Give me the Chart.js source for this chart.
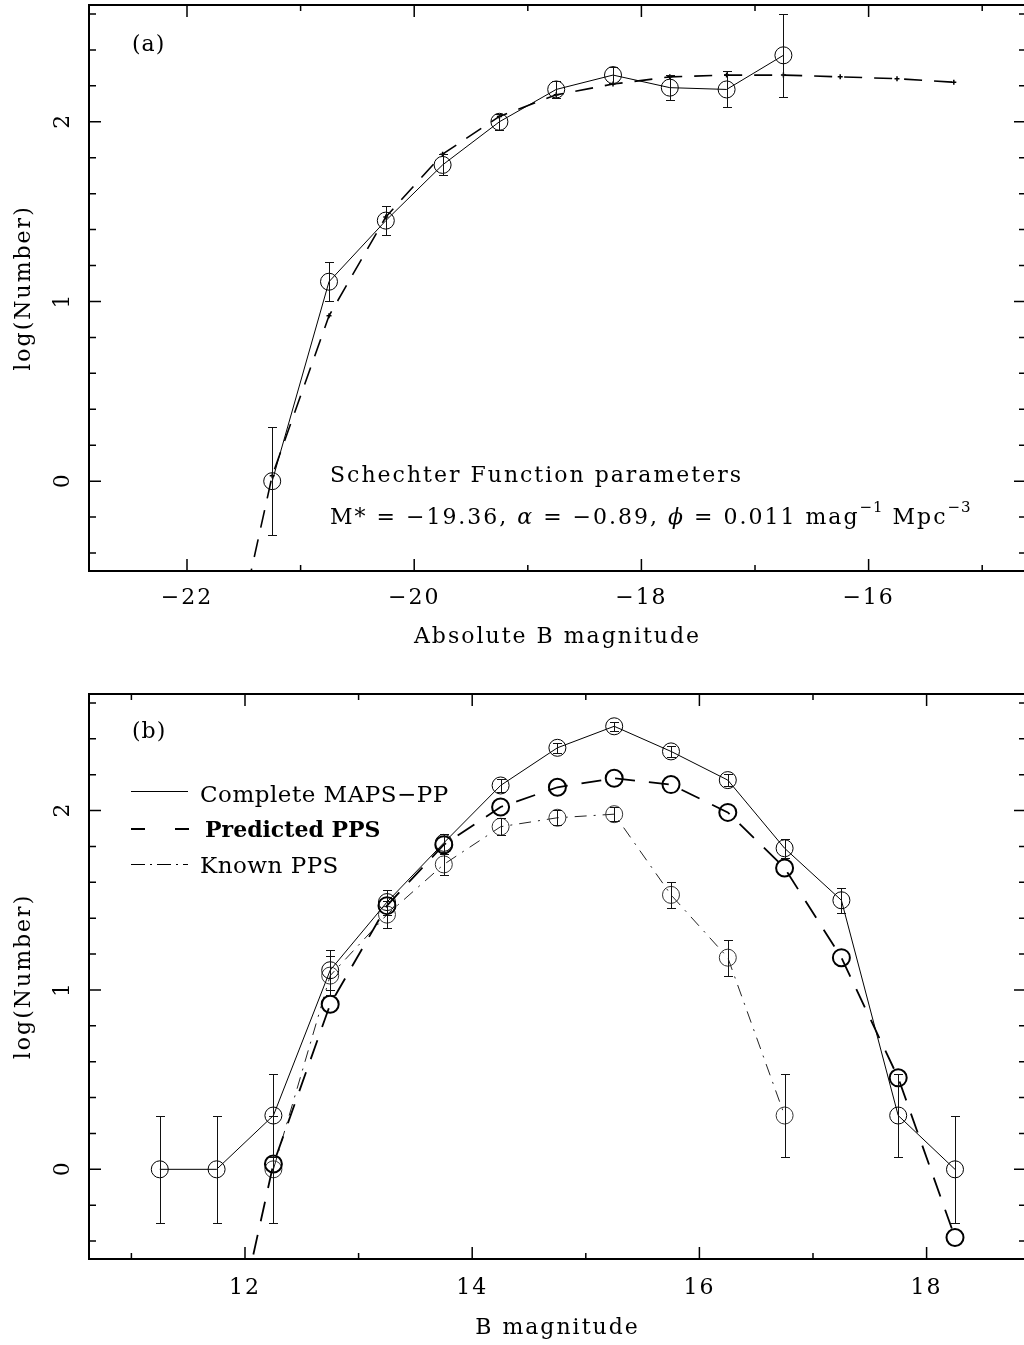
<!DOCTYPE html>
<html>
<head>
<meta charset="utf-8">
<script src="https://cdn.jsdelivr.net/npm/chart.js@4.4.1/dist/chart.umd.min.js"></script>
<style>
html, body { margin: 0; padding: 0; background: #fff; overflow: hidden; width: 1024px; height: 1345px; }
canvas { position: absolute; left: 0; }
#ca { top: 0; }
#cb { top: 665px; }
</style>
</head>
<body>
<canvas id="ca" width="1028" height="665"></canvas>
<canvas id="cb" width="1028" height="680"></canvas>
<script>
// (a) luminosity function, binned in absolute B magnitude
var magA = [-21.25, -20.75, -20.25, -19.75, -19.25, -18.75, -18.25, -17.75, -17.25, -16.75];
var logA = [0.00, 1.11, 1.45, 1.76, 2.00, 2.18, 2.26, 2.19, 2.18, 2.37];
var errA = [0.30, 0.11, 0.08, 0.058, 0.046, 0.045, 0.045, 0.068, 0.10, 0.23];

// Schechter fit
var magS = [-21.75, -21.25, -20.75, -20.25, -19.75, -19.25, -18.75, -18.25, -17.75, -17.25, -16.75, -16.25, -15.75, -15.25];
var logS = [-1.40, 0.03, 0.92, 1.47, 1.82, 2.03, 2.15, 2.21, 2.25, 2.26, 2.26, 2.25, 2.24, 2.22];

// (b) apparent B magnitude counts
var magC = [11.25, 11.75, 12.25, 12.75, 13.25, 13.75, 14.25, 14.75, 15.25, 15.75, 16.25, 16.75, 17.25, 17.75, 18.25];
var logC = [0.00, 0.00, 0.30, 1.11, 1.49, 1.82, 2.14, 2.35, 2.47, 2.33, 2.17, 1.79, 1.50, 0.30, 0.00];
var errC = [0.30, 0.30, 0.23, 0.11, 0.07, 0.05, 0.036, 0.028, 0.025, 0.03, 0.035, 0.052, 0.069, 0.23, 0.30];

var magP = [11.75, 12.25, 12.75, 13.25, 13.75, 14.25, 14.75, 15.25, 15.75, 16.25, 16.75, 17.25, 17.75, 18.25];
var logP = [-1.40, 0.03, 0.92, 1.47, 1.81, 2.02, 2.13, 2.18, 2.145, 1.99, 1.68, 1.18, 0.51, -0.38];

var magK = [12.25, 12.75, 13.25, 13.75, 14.25, 14.75, 15.25, 15.75, 16.25, 16.75];
var logK = [0.00, 1.08, 1.42, 1.70, 1.91, 1.96, 1.98, 1.53, 1.18, 0.30];
var errK = [0.30, 0.11, 0.075, 0.057, 0.046, 0.042, 0.04, 0.074, 0.10, 0.23];

// tick positions
var xTicksA = [-22, -21, -20, -19, -18, -17, -16, -15];
var xTicksB = [11, 12, 13, 14, 15, 16, 17, 18];
var yTicks = [-0.4, -0.2, 0, 0.2, 0.4, 0.6, 0.8, 1, 1.2, 1.4, 1.6, 1.8, 2, 2.2, 2.4, 2.6];

var fam = "'DejaVu Serif', serif";
Chart.defaults.font.family = fam;
Chart.defaults.color = '#000';

function pts(xs, ys) {
  return xs.map(function (x, i) { return { x: x, y: ys[i] }; });
}
function fmt(v) {
  return (v < 0 ? '\u2212' : '') + Math.abs(v);
}

// frame, inward ticks on all sides, rotated y labels, error bars
function decor(extra) {
  return {
    id: 'decor',
    beforeDraw: function (chart) {
      chart.ctx.letterSpacing = '2px';
    },
    afterDraw: function (chart) {
      var ctx = chart.ctx, a = chart.chartArea, xs = chart.scales.x, ys = chart.scales.y;
      ctx.save();
      ctx.beginPath();
      ctx.rect(a.left, a.top, a.right - a.left, a.bottom - a.top);
      ctx.clip();
      ctx.strokeStyle = '#111';
      ctx.lineWidth = 1;
      chart.data.datasets.forEach(function (ds) {
        if (!ds.err) return;
        ds.data.forEach(function (p, i) {
          var x = Math.round(xs.getPixelForValue(p.x)) + 0.5;
          var yt = Math.round(ys.getPixelForValue(p.y + ds.err[i])) + 0.5;
          var yb = Math.round(ys.getPixelForValue(p.y - ds.err[i])) + 0.5;
          ctx.beginPath();
          ctx.moveTo(x, yt); ctx.lineTo(x, yb);
          ctx.moveTo(x - 4.5, yt); ctx.lineTo(x + 4.5, yt);
          ctx.moveTo(x - 4.5, yb); ctx.lineTo(x + 4.5, yb);
          ctx.stroke();
        });
      });
      ctx.restore();

      ctx.save();
      ctx.strokeStyle = '#000';
      ctx.lineWidth = 2;
      ctx.strokeRect(a.left, a.top, a.right - a.left, a.bottom - a.top);
      ctx.lineWidth = 1.5;
      ctx.beginPath();
      xs.ticks.forEach(function (t) {
        var x = xs.getPixelForValue(t.value);
        var len = (t.value % 2 === 0) ? 12 : 6;
        ctx.moveTo(x, a.bottom); ctx.lineTo(x, a.bottom - len);
        ctx.moveTo(x, a.top); ctx.lineTo(x, a.top + len);
      });
      ys.ticks.forEach(function (t) {
        var y = ys.getPixelForValue(t.value);
        var major = Math.abs(t.value - Math.round(t.value)) < 1e-6;
        var len = major ? 12 : 7;
        ctx.moveTo(a.left, y); ctx.lineTo(a.left + len, y);
        ctx.moveTo(a.right, y); ctx.lineTo(a.right - len, y);
      });
      ctx.stroke();

      ctx.fillStyle = '#000';
      ctx.font = '22px ' + fam;
      ctx.letterSpacing = '0px';
      ctx.textAlign = 'center';
      ctx.textBaseline = 'middle';
      ys.ticks.forEach(function (t) {
        if (Math.abs(t.value - Math.round(t.value)) > 1e-6) return;
        ctx.save();
        ctx.translate(63, ys.getPixelForValue(t.value));
        ctx.rotate(-Math.PI / 2);
        ctx.fillText(String(Math.round(t.value)), 0, 0);
        ctx.restore();
      });
      extra(ctx, chart);
      ctx.restore();
    }
  };
}

function makeOptions(xmin, xmax, xTicks, xTitle, padTop, xHeight, labPad, titlePad) {
  return {
    responsive: false,
    animation: false,
    events: [],
    layout: { autoPadding: false, padding: { top: padTop, right: 2, left: 0, bottom: 0 } },
    plugins: { legend: { display: false }, tooltip: { enabled: false } },
    scales: {
      x: {
        type: 'linear', min: xmin, max: xmax, bounds: 'data',
        afterBuildTicks: function (s) { s.ticks = xTicks.map(function (v) { return { value: v }; }); },
        afterFit: function (s) { s.height = xHeight; },
        grid: { display: false, drawTicks: false },
        border: { display: false },
        ticks: {
          autoSkip: false, maxRotation: 0, padding: labPad,
          font: { size: 22 },
          callback: function (v) { return v % 2 === 0 ? fmt(v) : ''; }
        },
        title: { display: true, text: xTitle, font: { size: 22 }, padding: { top: 0, bottom: titlePad } }
      },
      y: {
        type: 'linear', min: -0.5, max: 2.65, bounds: 'data',
        afterBuildTicks: function (s) { s.ticks = yTicks.map(function (v) { return { value: v }; }); },
        afterFit: function (s) { s.width = 89; },
        grid: { display: false, drawTicks: false },
        border: { display: false },
        ticks: { display: false },
        title: { display: true, text: 'log(Number)', font: { size: 22 }, padding: { top: 11, bottom: 0 } }
      }
    }
  };
}

function drawNotesA(ctx) {
  ctx.textAlign = 'left';
  ctx.textBaseline = 'middle';
  ctx.letterSpacing = '1px';
  ctx.font = '22px ' + fam;
  ctx.fillText('(a)', 132, 45);
  ctx.textBaseline = 'alphabetic';
  ctx.letterSpacing = '2px';
  ctx.font = '22px ' + fam;
  ctx.fillText('Schechter Function parameters', 330, 482);
  var parts = [
    ['M* = \u221219.36, ', ''], ['\u03b1', 'i'], [' = \u22120.89, ', ''], ['\u03d5', 'i'],
    [' = 0.011 mag', ''], ['\u22121', 's'], [' Mpc', ''], ['\u22123', 's']
  ];
  var x = 330;
  parts.forEach(function (p) {
    var y = 524;
    ctx.letterSpacing = '2px';
    if (p[1] === 's') { ctx.font = '15px ' + fam; ctx.letterSpacing = '1px'; y = 512; }
    else if (p[1] === 'i') { ctx.font = 'italic 22px ' + fam; }
    else { ctx.font = '22px ' + fam; }
    ctx.fillText(p[0], x, y);
    x += ctx.measureText(p[0]).width;
  });
}

function drawNotesB(ctx) {
  ctx.textAlign = 'left';
  ctx.textBaseline = 'middle';
  ctx.letterSpacing = '1px';
  ctx.font = '22px ' + fam;
  ctx.fillText('(b)', 132, 67);
  ctx.textBaseline = 'alphabetic';
  // legend samples
  ctx.strokeStyle = '#000';
  ctx.lineWidth = 1;
  ctx.setLineDash([]);
  ctx.beginPath(); ctx.moveTo(131, 126.5); ctx.lineTo(188, 126.5); ctx.stroke();
  ctx.lineWidth = 2;
  ctx.setLineDash([14, 30]);
  ctx.beginPath(); ctx.moveTo(131, 164); ctx.lineTo(189, 164); ctx.stroke();
  ctx.lineWidth = 1;
  ctx.setLineDash([14, 5, 2, 5]);
  ctx.beginPath(); ctx.moveTo(131, 199.5); ctx.lineTo(188, 199.5); ctx.stroke();
  ctx.setLineDash([]);
  ctx.letterSpacing = '0.5px';
  ctx.font = '23px ' + fam;
  ctx.fillText('Complete MAPS\u2212PP', 200, 137);
  ctx.letterSpacing = '0px';
  ctx.font = 'bold 22px ' + fam;
  ctx.fillText('Predicted PPS', 205, 172);
  ctx.letterSpacing = '0.5px';
  ctx.font = '23px ' + fam;
  ctx.fillText('Known PPS', 200, 208);
}

var circle = {
  pointStyle: 'circle', pointRadius: 8.5,
  pointBackgroundColor: 'rgba(0,0,0,0)', pointBorderColor: '#000', pointBorderWidth: 1
};

new Chart(document.getElementById('ca'), {
  type: 'line',
  data: {
    datasets: [
      Object.assign({
        label: 'Observed', data: pts(magA, logA), err: errA,
        borderColor: '#000', borderWidth: 1, tension: 0, fill: false
      }, circle),
      {
        label: 'Schechter fit', data: pts(magS, logS),
        borderColor: '#000', borderWidth: 1.6, borderDash: [18, 12], tension: 0, fill: false,
        pointStyle: 'cross', pointRadius: 2.5, pointBorderWidth: 1.5, pointBorderColor: '#000'
      }
    ]
  },
  options: makeOptions(-22.8627, -14.6145, xTicksA, 'Absolute B magnitude', 5, 94, 14, 15),
  plugins: [decor(drawNotesA)]
});

new Chart(document.getElementById('cb'), {
  type: 'line',
  data: {
    datasets: [
      Object.assign({
        label: 'Complete MAPS-PP', data: pts(magC, logC), err: errC,
        borderColor: '#000', borderWidth: 1, tension: 0, fill: false
      }, circle),
      Object.assign({}, circle, {
        label: 'Predicted PPS', data: pts(magP, logP),
        borderColor: '#000', borderWidth: 1.8, borderDash: [20, 14], tension: 0, fill: false,
        pointBorderWidth: 2
      }),
      Object.assign({}, circle, {
        label: 'Known PPS', data: pts(magK, logK), err: errK,
        borderColor: '#222', borderWidth: 1, borderDash: [12, 7, 2, 7], tension: 0, fill: false,
        pointBorderColor: '#333'
      })
    ]
  },
  options: makeOptions(10.6268, 18.875, xTicksB, 'B magnitude', 29, 86, 16, 4),
  plugins: [decor(drawNotesB)]
});
</script>
</body>
</html>
